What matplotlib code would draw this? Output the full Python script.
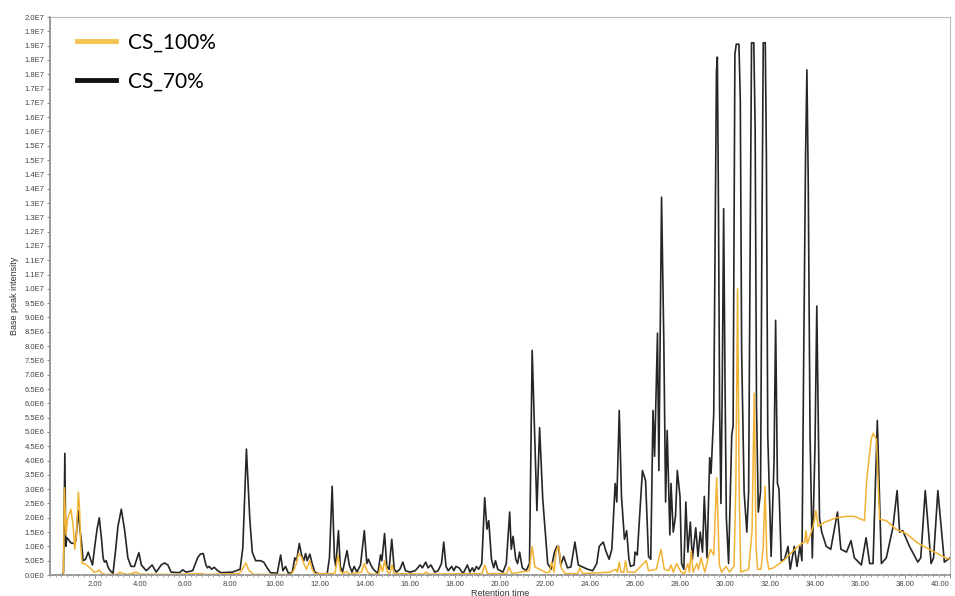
import numpy as np
import matplotlib
matplotlib.use("Agg")
import matplotlib.pyplot as plt
from matplotlib.lines import Line2D

# Retention time (min) and base peak intensity (x1e6)
t_70 = [0.00, 0.55, 0.60, 0.66, 0.70, 0.75, 0.81, 0.93, 1.08, 1.15, 1.25, 1.33, 1.40, 1.47, 1.58,
        1.70, 1.80, 1.89, 1.99, 2.09, 2.19, 2.29, 2.36, 2.42, 2.50, 2.57, 2.65, 2.80, 2.92, 3.02,
        3.17, 3.32, 3.46, 3.60, 3.75, 3.95, 4.06, 4.28, 4.54, 4.72, 4.94, 5.09, 5.24, 5.38, 5.75,
        5.90, 6.05, 6.34, 6.56, 6.68, 6.81, 6.93, 7.00, 7.08, 7.18, 7.30, 7.45, 7.60, 8.10, 8.45,
        8.57, 8.73, 8.88, 8.99, 9.14, 9.36, 9.50, 9.65, 9.80, 10.10, 10.25, 10.35, 10.47, 10.60, 10.77,
        10.88, 10.96, 11.08, 11.18, 11.28, 11.36, 11.43, 11.55, 11.65, 11.77, 12.00, 12.32, 12.42, 12.54, 12.64,
        12.70, 12.82, 12.90, 13.00, 13.20, 13.30, 13.42, 13.52, 13.64, 13.80, 13.97, 14.08, 14.15, 14.26, 14.37,
        14.57, 14.69, 14.75, 14.87, 14.97, 15.07, 15.19, 15.30, 15.40, 15.55, 15.68, 15.80, 16.00, 16.23, 16.45,
        16.55, 16.70, 16.80, 16.93, 17.10, 17.25, 17.40, 17.50, 17.60, 17.70, 17.85, 17.95, 18.04, 18.18, 18.36,
        18.55, 18.66, 18.77, 18.85, 18.95, 19.05, 19.19, 19.32, 19.42, 19.50, 19.62, 19.72, 19.80, 19.90, 20.13,
        20.28, 20.43, 20.50, 20.58, 20.70, 20.78, 20.87, 20.99, 21.16, 21.31, 21.43, 21.64, 21.76, 21.90, 22.12,
        22.27, 22.42, 22.53, 22.60, 22.70, 22.83, 23.00, 23.15, 23.33, 23.48, 23.67, 23.90, 24.12, 24.30, 24.41,
        24.59, 24.70, 24.85, 24.97, 25.12, 25.19, 25.30, 25.40, 25.53, 25.63, 25.73, 25.80, 25.96, 26.00, 26.10,
        26.33, 26.47, 26.60, 26.70, 26.80, 26.87, 27.00, 27.06, 27.18, 27.28, 27.36, 27.43, 27.55, 27.60, 27.70,
        27.80, 27.88, 28.00, 28.07, 28.17, 28.26, 28.35, 28.46, 28.55, 28.70, 28.80, 28.90, 29.00, 29.08, 29.20,
        29.32, 29.38, 29.50, 29.56, 29.62, 29.66, 29.71, 29.76, 29.82, 29.88, 29.94, 30.00, 30.06, 30.16, 30.30,
        30.36, 30.40, 30.44, 30.50, 30.62, 30.68, 30.74, 30.85, 30.97, 31.05, 31.12, 31.18, 31.28, 31.34, 31.40,
        31.48, 31.58, 31.64, 31.70, 31.79, 31.84, 31.90, 32.05, 32.18, 32.25, 32.33, 32.40, 32.50, 32.65, 32.80,
        32.90, 33.08, 33.20, 33.33, 33.42, 33.50, 33.58, 33.64, 33.70, 33.78, 33.88, 34.00, 34.08, 34.20, 34.30,
        34.50, 34.70, 35.00, 35.15, 35.40, 35.60, 35.75, 36.06, 36.27, 36.43, 36.58, 36.77, 36.95, 37.17, 37.46,
        37.65, 37.76, 37.90, 38.20, 38.57, 38.70, 38.90, 39.16, 39.27, 39.46, 39.75, 40.00]
i_70 = [0.00, 0.00, 0.10, 4.25, 1.00, 1.30, 1.25, 1.12, 1.10, 1.20, 2.25, 1.60, 1.15, 0.50, 0.55,
        0.80, 0.55, 0.35, 1.00, 1.60, 2.00, 1.25, 0.60, 0.45, 0.50, 0.30, 0.18, 0.05, 0.90, 1.70,
        2.30, 1.55, 0.60, 0.30, 0.30, 0.78, 0.35, 0.15, 0.35, 0.10, 0.35, 0.42, 0.35, 0.10, 0.08,
        0.18, 0.10, 0.15, 0.60, 0.73, 0.75, 0.35, 0.25, 0.30, 0.20, 0.27, 0.15, 0.08, 0.10, 0.20,
        0.95, 4.40, 1.95, 0.80, 0.50, 0.50, 0.45, 0.25, 0.08, 0.06, 0.70, 0.15, 0.30, 0.05, 0.10,
        0.60, 0.50, 1.10, 0.70, 0.50, 0.75, 0.50, 0.73, 0.40, 0.10, 0.02, 0.05, 0.60, 3.10, 0.60,
        0.30, 1.55, 0.30, 0.10, 0.85, 0.35, 0.10, 0.30, 0.10, 0.35, 1.55, 0.40, 0.55, 0.35, 0.20,
        0.05, 0.70, 0.50, 1.45, 0.30, 0.20, 1.25, 0.20, 0.10, 0.20, 0.45, 0.15, 0.10, 0.15, 0.35,
        0.25, 0.45, 0.25, 0.35, 0.10, 0.15, 0.40, 1.15, 0.30, 0.15, 0.30, 0.15, 0.30, 0.25, 0.05,
        0.35, 0.10, 0.25, 0.12, 0.30, 0.20, 0.40, 2.70, 1.60, 1.90, 0.55, 0.25, 0.50, 0.20, 0.10,
        0.40, 2.20, 0.90, 1.35, 0.55, 0.40, 0.80, 0.25, 0.15, 0.40, 7.85, 2.25, 5.15, 2.65, 0.40,
        0.20, 0.80, 1.00, 1.00, 0.35, 0.65, 0.25, 0.28, 1.15, 0.35, 0.28, 0.20, 0.15, 0.40, 1.00,
        1.15, 0.85, 0.55, 0.90, 3.20, 2.55, 5.75, 2.75, 1.25, 1.55, 0.55, 0.30, 0.35, 0.80, 0.70,
        3.65, 3.30, 0.65, 0.55, 5.75, 4.15, 8.45, 3.65, 13.20, 8.20, 2.55, 5.05, 1.40, 3.20, 1.50,
        2.05, 3.65, 2.75, 0.40, 0.20, 2.55, 0.80, 1.85, 0.55, 1.65, 0.65, 1.50, 0.80, 2.75, 0.60,
        4.10, 3.55, 5.65, 11.80, 17.60, 18.10, 12.80, 5.90, 2.50, 6.80, 12.80, 6.80, 2.00, 0.40, 4.90,
        5.20, 11.80, 18.20, 18.55, 18.55, 16.60, 7.80, 2.90, 1.50, 2.90, 11.70, 18.60, 18.60, 15.60, 5.90,
        2.20, 2.90, 11.70, 18.60, 18.60, 14.60, 4.90, 0.65, 4.00, 8.90, 3.20, 3.00, 0.50, 0.55, 1.00,
        0.20, 1.00, 0.30, 1.00, 0.50, 7.80, 14.60, 17.65, 13.70, 4.90, 0.60, 4.50, 9.40, 2.00, 1.50,
        1.00, 0.90, 2.20, 0.90, 0.80, 1.20, 0.60, 0.35, 1.30, 0.40, 0.40, 5.40, 0.40, 0.60, 1.65,
        2.95, 1.50, 1.55, 1.00, 0.45, 0.60, 2.95, 0.40, 0.60, 2.95, 0.45, 0.60]

t_100 = [0.00, 0.55, 0.60, 0.64, 0.71, 0.78, 0.93, 1.03, 1.10, 1.18, 1.26, 1.31, 1.37, 1.43, 1.52,
         1.70, 1.84, 1.96, 2.10, 2.18, 2.29, 2.43, 3.00, 3.10, 3.25, 3.45, 3.84, 4.00, 5.50, 6.70,
         6.90, 8.40, 8.55, 8.70, 8.85, 9.05, 10.70, 10.83, 10.93, 11.05, 11.20, 11.28, 11.40, 11.55, 11.65,
         11.77, 12.65, 12.68, 12.80, 12.90, 13.00, 13.20, 13.30, 13.85, 13.97, 14.10, 14.25, 14.60, 14.70, 14.78,
         14.87, 15.00, 15.10, 15.20, 15.30, 16.60, 16.72, 16.85, 19.20, 19.32, 19.45, 20.30, 20.40, 20.52, 21.30,
         21.43, 21.55, 21.76, 22.05, 22.20, 22.30, 22.40, 22.49, 22.58, 22.63, 22.72, 22.90, 23.45, 23.55, 23.67,
         24.90, 25.00, 25.15, 25.22, 25.30, 25.38, 25.50, 25.58, 25.66, 26.00, 26.50, 26.60, 26.95, 27.15, 27.30,
         27.50, 27.60, 27.70, 27.85, 28.05, 28.20, 28.35, 28.42, 28.50, 28.58, 28.75, 28.82, 28.94, 29.10, 29.35,
         29.50, 29.63, 29.75, 29.85, 30.05, 30.20, 30.40, 30.48, 30.56, 30.63, 30.70, 31.05, 31.20, 31.30, 31.38,
         31.45, 31.60, 31.70, 31.78, 31.86, 31.95, 32.15, 32.60, 33.04, 33.40, 33.55, 33.60, 33.66, 33.92, 34.04,
         34.14, 34.44, 34.96, 35.40, 35.75, 36.20, 36.30, 36.50, 36.58, 36.73, 36.87, 37.17, 37.60, 38.05, 38.60,
         39.20, 39.80, 40.00]
i_100 = [0.00, 0.00, 0.05, 3.05, 1.40, 1.95, 2.30, 1.70, 0.90, 1.45, 2.90, 2.35, 1.00, 0.40, 0.40,
         0.30, 0.20, 0.10, 0.12, 0.18, 0.07, 0.02, 0.02, 0.10, 0.05, 0.02, 0.10, 0.03, 0.02, 0.05,
         0.02, 0.05, 0.20, 0.42, 0.15, 0.02, 0.02, 0.15, 0.35, 0.75, 0.60, 0.40, 0.20, 0.50, 0.20,
         0.05, 0.05, 0.12, 0.70, 0.15, 0.05, 0.12, 0.03, 0.10, 0.40, 0.12, 0.03, 0.03, 0.35, 0.12,
         0.50, 0.10, 0.05, 0.35, 0.05, 0.03, 0.10, 0.03, 0.05, 0.35, 0.05, 0.05, 0.28, 0.05, 0.15,
         1.00, 0.28, 0.20, 0.08, 0.10, 0.45, 0.10, 0.80, 1.00, 0.90, 0.25, 0.05, 0.05, 0.25, 0.05,
         0.10, 0.15, 0.20, 0.10, 0.45, 0.10, 0.10, 0.50, 0.10, 0.10, 0.50, 0.15, 0.20, 0.90, 0.20,
         0.15, 0.35, 0.10, 0.40, 0.10, 0.05, 0.40, 0.10, 0.85, 0.10, 0.40, 0.20, 0.60, 0.10, 0.90,
         0.70, 3.40, 0.35, 0.10, 0.30, 0.10, 0.30, 3.00, 10.00, 3.00, 0.10, 0.20, 1.50, 6.35, 1.00,
         0.20, 0.20, 1.00, 3.10, 0.60, 0.20, 0.25, 0.50, 0.85, 1.10, 1.15, 1.55, 1.10, 1.70, 2.25,
         1.70, 1.85, 2.00, 2.05, 2.05, 1.90, 3.35, 4.75, 4.95, 4.75, 1.95, 1.90, 1.60, 1.45, 1.10,
         0.85, 0.60, 0.55]

xtick_vals = list(range(2, 41, 2))
xtick_labels = [f"{v:.2f}" for v in xtick_vals]
ytick_vals = [k * 0.5e6 for k in range(40)]
ytick_labels = ["0.0E0", "5.0E5", "1.0E6", "1.5E6", "2.0E6", "2.5E6", "3.0E6", "3.5E6", "4.0E6", "4.5E6",
                "5.0E6", "5.5E6", "6.0E6", "6.5E6", "7.0E6", "7.5E6", "8.0E6", "8.5E6", "9.0E6", "9.5E6",
                "1.0E7", "1.1E7", "1.1E7", "1.2E7", "1.2E7", "1.3E7", "1.3E7", "1.4E7", "1.4E7", "1.5E7",
                "1.5E7", "1.6E7", "1.6E7", "1.7E7", "1.7E7", "1.8E7", "1.8E7", "1.9E7", "1.9E7", "2.0E7"]

col_70 = "#262626"
col_100 = "#f2b233"

fig = plt.figure(figsize=(9.55, 5.96), dpi=100)
ax = fig.add_axes([50 / 955, 21 / 596, 900 / 955, 558 / 596])

ax.plot(t_70, np.array(i_70) * 1e6, color=col_70, lw=1.2, solid_joinstyle="round")
ax.plot(t_100, np.array(i_100) * 1e6, color=col_100, lw=1.1, solid_joinstyle="round")

ax.set_xlim(0, 40)
ax.set_ylim(0, 1.95e7)
ax.set_xticks(xtick_vals)
ax.set_xticklabels(xtick_labels)
ax.set_xticks(np.arange(0, 40.01, 0.25), minor=True)
ax.set_yticks(ytick_vals)
ax.set_yticklabels(ytick_labels)

for lab in ax.get_xticklabels() + ax.get_yticklabels():
    lab.set_family("Liberation Sans")
    lab.set_color("#444444")
# last x label sits at the right border, keep it inside the picture
ax.get_xticklabels()[-1].set_horizontalalignment("right")
ax.tick_params(axis="both", labelsize=5.5, length=2.5, width=0.6, color="#777777", pad=1.5)
ax.tick_params(axis="x", which="minor", length=1.5, width=0.5, color="#888888")

for side in ["top", "right"]:
    ax.spines[side].set_color("#bbbbbb")
    ax.spines[side].set_linewidth(0.8)
ax.spines["left"].set_color("#888888")
ax.spines["left"].set_linewidth(1.2)
ax.spines["bottom"].set_color("#999999")
ax.spines["bottom"].set_linewidth(1.4)
ax.spines["bottom"].set_linestyle((0, (3, 1.2)))

ax.set_xlabel("Retention time", fontsize=6.5, family="Liberation Sans", color="#333333", labelpad=1)
ax.set_ylabel("Base peak intensity", fontsize=6.5, family="Liberation Sans", color="#333333", labelpad=4)

handles = [Line2D([], [], color="#f5c250", lw=3.5), Line2D([], [], color="#111111", lw=3.5)]
ax.legend(handles, ["CS_100%", "CS_70%"], loc="upper left", bbox_to_anchor=(0.03, 0.972),
          frameon=False, borderpad=0, borderaxespad=0, handlelength=1.85, handletextpad=0.6,
          labelspacing=0.9, prop={"family": "Lato", "size": 15})

fig.savefig("out.png", dpi=100)
